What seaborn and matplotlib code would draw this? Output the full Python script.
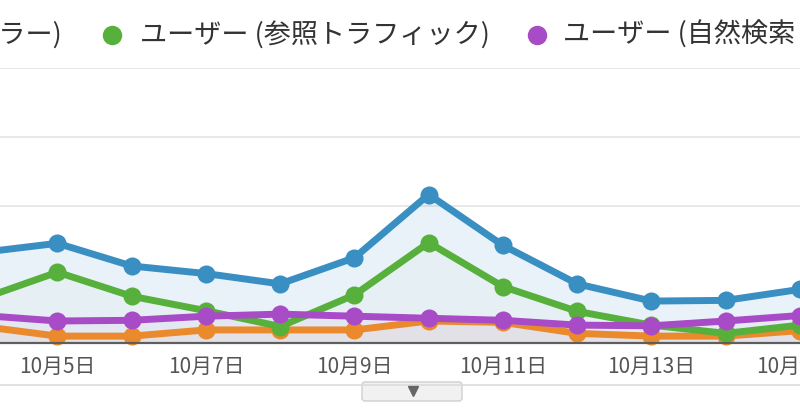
import numpy as np
import pandas as pd
import matplotlib
matplotlib.use("Agg")
import matplotlib.pyplot as plt
import seaborn as sns
from matplotlib.patches import FancyBboxPatch

# data (day of October)
days = [4, 5, 6, 7, 8, 9, 10, 11, 12, 13, 14, 15]
users_all = [66, 72.5, 56, 50.5, 43, 62, 108, 71, 43, 30.5, 31, 39]
users_direct = [12, 5, 5, 9.5, 9.5, 9.5, 16, 15, 7, 5, 5, 9]
users_referral = [32.5, 51.5, 34, 23.5, 12, 35, 73, 41, 23, 13, 7, 13]
users_organic = [20, 16, 16.5, 19.5, 21, 19.5, 18, 16.5, 13, 12.5, 16, 20]

tick_days = [5, 7, 9, 11, 13, 15]
tick_labels = [f"10月{d}日" for d in tick_days]

names = ["ユーザー", "ユーザー (ノーリファラー)", "ユーザー (参照トラフィック)", "ユーザー (自然検索トラフィック)"]
colors = ["#3a8fc2", "#ea8a2c", "#58b03c", "#a84bc6"]

df = pd.concat([
    pd.DataFrame({"day": days, "users": users_all, "series": names[0]}),
    pd.DataFrame({"day": days, "users": users_direct, "series": names[1]}),
    pd.DataFrame({"day": days, "users": users_referral, "series": names[2]}),
    pd.DataFrame({"day": days, "users": users_organic, "series": names[3]}),
])

sns.set_style("white")
plt.rcParams['font.family'] = ['Noto Sans CJK JP', 'DejaVu Sans']

W, H = 800, 418
fig = plt.figure(figsize=(8, 4.18), dpi=100)
ax = fig.add_axes([0, (H - 343) / H, 1, (343 - 68) / H])

# light area fills under each series
fill_alpha = {names[0]: 0.11, names[1]: 0.05, names[2]: 0.02, names[3]: 0.05}
for name, col in zip(names, colors):
    d = df[df.series == name]
    ax.fill_between(d.day, 0, d.users, color=col, alpha=fill_alpha[name], lw=0, zorder=1)

# draw order: orange, green, purple, blue on top
order = [names[1], names[2], names[3], names[0]]
pal = dict(zip(names, colors))
sns.lineplot(data=df, x="day", y="users", hue="series", hue_order=order, palette=pal,
             marker="o", markersize=13, markeredgewidth=0, linewidth=5,
             legend=False, ax=ax, zorder=3, clip_on=False)

ax.set_xlim((0 - 58) / 75 + 5, (800 - 58) / 75 + 5)
ax.set_ylim(0, 200)
ax.set_yticks([100, 150, 200])
ax.yaxis.grid(True, color="#e4e4e4", lw=1.2, zorder=0)
ax.set_axisbelow(True)
ax.set_yticklabels([])
ax.tick_params(axis="y", length=0)
ax.set_xticks(tick_days)
ax.set_xticklabels(tick_labels, fontsize=15, color="#555555")
ax.tick_params(axis="x", length=0, pad=9)
ax.set_xlabel("")
ax.set_ylabel("")
for s in ["top", "left", "right"]:
    ax.spines[s].set_visible(False)
ax.spines["bottom"].set_color("#5e5e5e")
ax.spines["bottom"].set_linewidth(1.6)
ax.spines["bottom"].set_zorder(4)

# overlay in pixel coordinates for legend and bottom tab
ov = fig.add_axes([0, 0, 1, 1], zorder=-1)
ov.set_xlim(0, W)
ov.set_ylim(H, 0)
ov.axis("off")
ov.plot([0, W], [385, 385], color="#dcdcdc", lw=1.2)
tab = FancyBboxPatch((362, 382), 100, 19, boxstyle="round,pad=0,rounding_size=3",
                     facecolor="#f1f1f1", edgecolor="#cfcfcf", lw=1)
ov.add_patch(tab)
ov.plot([413], [391], marker="v", color="#666666", markersize=7)

leg = fig.add_axes([0, 0, 1, 1], zorder=5)
leg.set_xlim(0, W)
leg.set_ylim(H, 0)
leg.axis("off")
leg.text(62, 35, names[1], ha="right", va="center", fontsize=19.5, color="#333333")
leg.plot([112], [35], marker="o", markersize=14, color=colors[2], mew=0)
leg.text(140, 35, names[2], ha="left", va="center", fontsize=19.5, color="#333333")
leg.plot([537], [35], marker="o", markersize=14, color=colors[3], mew=0)
leg.text(563, 35, names[3], ha="left", va="center", fontsize=19.5, color="#333333")

fig.savefig("out.png", dpi=100)
